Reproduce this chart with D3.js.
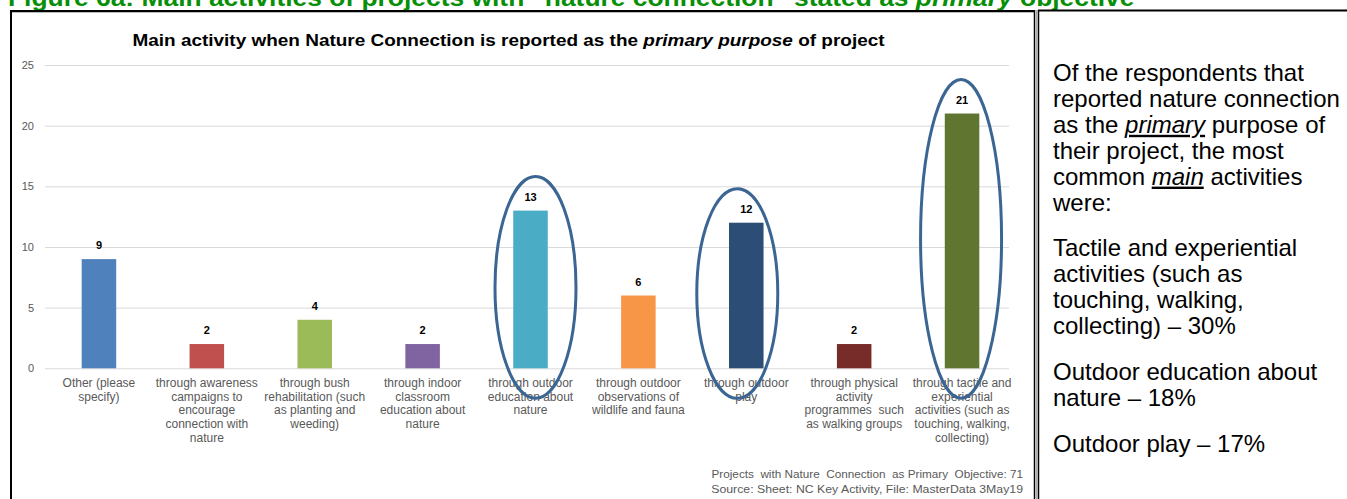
<!DOCTYPE html>
<html>
<head>
<meta charset="utf-8">
<script src="https://cdn.jsdelivr.net/npm/d3@7"></script>
<style>
  body { margin: 0; background: #fff; }
  svg { display: block; }
</style>
</head>
<body>
<svg id="fig" width="1347" height="499"></svg>
<script>
// ---- data ----
const categories = [
  "Other (please\nspecify)",
  "through awareness\ncampaigns to\nencourage\nconnection with\nnature",
  "through bush\nrehabilitation (such\nas planting and\nweeding)",
  "through indoor\nclassroom\neducation about\nnature",
  "through outdoor\neducation about\nnature",
  "through outdoor\nobservations of\nwildlife and fauna",
  "through outdoor\nplay",
  "through physical\nactivity\nprogrammes  such\nas walking groups",
  "through tactile and\nexperiential\nactivities (such as\ntouching, walking,\ncollecting)"
];
const values = [9, 2, 4, 2, 13, 6, 12, 2, 21];
const barColors = ["#4F81BD", "#C0504D", "#9BBB59", "#8064A2", "#4BACC6",
                   "#F79646", "#2C4D75", "#772C2A", "#5F7530"];
const yTicks = [0, 5, 10, 15, 20, 25];
// categories circled as the most common activities
const highlighted = [
  "through outdoor\neducation about\nnature",
  "through outdoor\nplay",
  "through tactile and\nexperiential\nactivities (such as\ntouching, walking,\ncollecting)"
];
const footnotes = [
  "Projects  with Nature  Connection  as Primary  Objective: 71",
  "Source: Sheet: NC Key Activity, File: MasterData 3May19"
];
// summary panel: each paragraph is a list of lines, each line a list of [text, style]
const summary = [
  [
    [["Of the respondents that", ""]],
    [["reported nature connection", ""]],
    [["as the ", ""], ["primary", "iu"], [" purpose of", ""]],
    [["their project, the most", ""]],
    [["common ", ""], ["main", "iu"], [" activities", ""]],
    [["were:", ""]]
  ],
  [
    [["Tactile and experiential", ""]],
    [["activities (such as", ""]],
    [["touching, walking,", ""]],
    [["collecting) \u2013 30%", ""]]
  ],
  [
    [["Outdoor education about", ""]],
    [["nature \u2013 18%", ""]]
  ],
  [
    [["Outdoor play \u2013 17%", ""]]
  ]
];

// ---- drawing ----
const W = 1347, H = 499;
const FONT = "'Liberation Sans', Arial, sans-serif";
const svg = d3.select("#fig").style("font-family", FONT);

// squeeze a text element horizontally so it spans the given width
function fitWidth(sel, x, y, width) {
  const w = sel.node().getBBox().width;
  sel.attr("transform", `translate(${x},${y}) scale(${width / w},1)`);
}

// figure heading (runs off the top edge)
const heading = svg.append("text")
  .attr("x", 0).attr("y", 0)
  .attr("font-size", 23).attr("font-weight", "bold")
  .attr("fill", "#078F07");
heading.append("tspan").text("Figure 6a: Main activities of projects with \u201Cnature connection\u201D stated as ");
heading.append("tspan").attr("font-style", "italic").text("primary");
heading.append("tspan").text(" objective");
fitWidth(heading, 8, 6, 1127);

// frames
const frame = svg.append("g").attr("fill", "none");
frame.append("line").attr("x1", 11).attr("x2", 11).attr("y1", 10).attr("y2", H)
  .attr("stroke", "#000").attr("stroke-width", 2);
frame.append("line").attr("x1", 10).attr("x2", 1035).attr("y1", 11).attr("y2", 11)
  .attr("stroke", "#000").attr("stroke-width", 2);
frame.append("line").attr("x1", 12).attr("x2", 1034).attr("y1", 12.5).attr("y2", 12.5)
  .attr("stroke", "#bbb").attr("stroke-width", 1);
frame.append("line").attr("x1", 1034.5).attr("x2", 1034.5).attr("y1", 10).attr("y2", H)
  .attr("stroke", "#000").attr("stroke-width", 1.5);
frame.append("line").attr("x1", 1036.5).attr("x2", 1036.5).attr("y1", 10).attr("y2", H)
  .attr("stroke", "#aaa").attr("stroke-width", 1.5);
frame.append("line").attr("x1", 1038.5).attr("x2", 1038.5).attr("y1", 10).attr("y2", H)
  .attr("stroke", "#000").attr("stroke-width", 1.5);
frame.append("line").attr("x1", 1038).attr("x2", W).attr("y1", 10.5).attr("y2", 10.5)
  .attr("stroke", "#000").attr("stroke-width", 2);

// chart title
const title = svg.append("text")
  .attr("font-size", 17).attr("font-weight", "bold").attr("fill", "#000")
  .attr("text-anchor", "middle");
title.append("tspan").text("Main activity when Nature Connection is reported as the ");
title.append("tspan").attr("font-style", "italic").text("primary purpose");
title.append("tspan").text(" of project");
fitWidth(title, 508.5, 46, 753);

// scales
const plotLeft = 45, gridRight = 1009, bandRight = 1016;
const plotBottom = 368.3, plotTop = 65;
const x = d3.scaleBand().domain(categories).range([plotLeft, bandRight])
  .paddingInner(0.68).paddingOuter(0.34);
const y = d3.scaleLinear().domain([0, 25]).range([plotBottom, plotTop]);

// value axis with gridlines
const yAxis = svg.append("g")
  .attr("transform", `translate(${plotLeft},0)`)
  .call(d3.axisLeft(y).tickValues(yTicks).tickSize(-(gridRight - plotLeft)).tickPadding(11));
yAxis.select(".domain").remove();
yAxis.selectAll(".tick line").attr("stroke", "#D9D9D9").attr("stroke-width", 1);
yAxis.selectAll(".tick text").attr("fill", "#595959").attr("font-size", 11)
  .attr("font-family", FONT);

// bars
svg.append("g").selectAll("rect")
  .data(categories)
  .join("rect")
  .attr("x", d => x(d))
  .attr("y", (d, i) => y(values[i]))
  .attr("width", x.bandwidth())
  .attr("height", (d, i) => y(0) - y(values[i]))
  .attr("fill", (d, i) => barColors[i]);

// value labels
svg.append("g").selectAll("text")
  .data(categories)
  .join("text")
  .attr("x", d => x(d) + x.bandwidth() / 2)
  .attr("y", (d, i) => y(values[i]) - 10)
  .attr("text-anchor", "middle")
  .attr("font-size", 11).attr("font-weight", "bold").attr("fill", "#000")
  .text((d, i) => values[i]);

// category labels
const catLabels = svg.append("g").selectAll("text")
  .data(categories)
  .join("text")
  .attr("text-anchor", "middle")
  .attr("font-size", 12).attr("fill", "#595959")
  .attr("xml:space", "preserve");
catLabels.each(function (d) {
  const cx = x(d) + x.bandwidth() / 2;
  d3.select(this).selectAll("tspan")
    .data(d.split("\n"))
    .join("tspan")
    .attr("x", cx)
    .attr("y", (line, j) => 387 + j * 13.7)
    .text(line => line);
});

// circled highlights (hand-placed nudges)
const nudge = [5, -9, -1];
const ellipseTop = d => y(values[categories.indexOf(d)]) - 34;
const ellipseBottom = () => y(0) + 30;
svg.append("g").selectAll("ellipse")
  .data(highlighted)
  .join("ellipse")
  .attr("cx", (d, k) => x(d) + x.bandwidth() / 2 + nudge[k])
  .attr("cy", d => (ellipseTop(d) + ellipseBottom()) / 2)
  .attr("rx", 40.5)
  .attr("ry", d => (ellipseBottom() - ellipseTop(d)) / 2)
  .attr("fill", "none")
  .attr("stroke", "#3B6593")
  .attr("stroke-width", 3);

// footnotes
footnotes.forEach((t, i) => {
  const f = svg.append("text")
    .attr("text-anchor", "end")
    .attr("font-size", 11).attr("fill", "#595959")
    .attr("xml:space", "preserve")
    .text(t);
  fitWidth(f, 1023, 478 + i * 15.3, 312);
});

// summary panel
let baseline = 81;
summary.forEach((para, p) => {
  if (p > 0) baseline += 20;
  para.forEach(line => {
    const t = svg.append("text")
      .attr("x", 1053).attr("y", baseline)
      .attr("font-size", 24).attr("fill", "#000")
      .attr("xml:space", "preserve");
    line.forEach(([txt, style]) => {
      const s = t.append("tspan").text(txt);
      if (style.includes("i")) s.attr("font-style", "italic");
      if (style.includes("u")) s.attr("text-decoration", "underline");
    });
    baseline += 25.9;
  });
});
</script>
</body>
</html>
